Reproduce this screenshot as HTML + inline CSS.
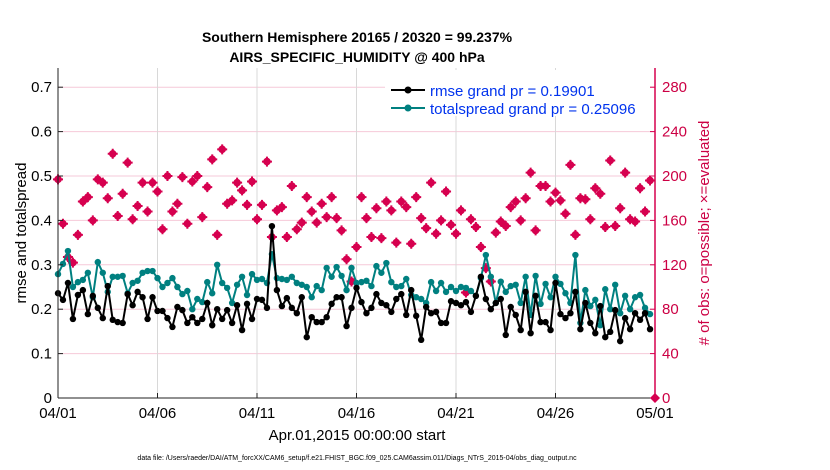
<!DOCTYPE html>
<html><head><meta charset="utf-8">
<style>
body{margin:0;background:#fff;}
svg{display:block;font-family:"Liberation Sans",Arial,sans-serif;}
</style></head>
<body>
<svg id="chart" width="830" height="470" viewBox="0 0 830 470" xmlns="http://www.w3.org/2000/svg">
<text x="357" y="42" text-anchor="middle" font-size="14" font-weight="bold">Southern Hemisphere 20165 / 20320 = 99.237%</text>
<text x="357" y="62" text-anchor="middle" font-size="14" font-weight="bold">AIRS_SPECIFIC_HUMIDITY @ 400 hPa</text>
<g id="grid"></g>
<g id="marks"></g>
<g id="axes"></g>
<text transform="translate(26,233) rotate(-90)" text-anchor="middle" font-size="15">rmse and totalspread</text>
<text transform="translate(709,233) rotate(-90)" text-anchor="middle" font-size="15" fill="#cc0044"># of obs: o=possible; ×=evaluated</text>
<text x="357" y="440" text-anchor="middle" font-size="15">Apr.01,2015 00:00:00 start</text>
<text x="357" y="460" text-anchor="middle" font-size="7">data file: /Users/raeder/DAI/ATM_forcXX/CAM6_setup/f.e21.FHIST_BGC.f09_025.CAM6assim.011/Diags_NTrS_2015-04/obs_diag_output.nc</text>
<g>
<rect x="385" y="70" width="265" height="46" fill="#fff"/>
<line x1="391" y1="90" x2="425" y2="90" stroke="#000" stroke-width="2"/>
<circle cx="408" cy="90" r="3.5" fill="#000"/>
<text x="430" y="96" font-size="15" fill="#0033ee">rmse grand pr = 0.19901</text>
<line x1="391" y1="108" x2="425" y2="108" stroke="#008080" stroke-width="2"/>
<circle cx="408" cy="108" r="3.5" fill="#008080"/>
<text x="430" y="114" font-size="15" fill="#0033ee">totalspread grand pr = 0.25096</text>
</g>
</svg>
<script>
const dateLabels=["04/01","04/06","04/11","04/16","04/21","04/26","05/01"];
const leftTicks=[0,0.1,0.2,0.3,0.4,0.5,0.6,0.7];
const rightTicks=[0,40,80,120,160,200,240,280];
const rmse=[.236,.221,.259,.178,.232,.243,.189,.230,.203,.180,.252,.176,.171,.169,.234,.209,.239,.227,.178,.227,
.196,.196,.180,.160,.205,.198,.169,.182,.169,.178,.214,.164,.200,.178,.198,.169,.209,.153,.212,.178,
.223,.221,.203,.387,.243,.207,.225,.203,.191,.227,.137,.182,.171,.171,.182,.212,.227,.227,.162,.203,
.248,.216,.191,.203,.234,.214,.209,.194,.223,.234,.187,.243,.185,.131,.205,.191,.194,.169,.169,.218,
.214,.209,.216,.194,.230,.273,.223,.200,.214,.223,.142,.205,.187,.153,.239,.146,.230,.171,.171,.153,
.259,.189,.180,.191,.239,.155,.214,.169,.146,.207,.137,.149,.198,.128,.180,.155,.191,.176,.191,.155];
const spread=[.279,.302,.331,.250,.261,.266,.282,.227,.306,.282,.239,.273,.273,.275,.236,.259,.264,.282,.286,.286,
.270,.250,.259,.270,.250,.234,.241,.200,.223,.216,.261,.236,.300,.259,.248,.214,.255,.273,.232,.279,
.266,.268,.259,.324,.270,.268,.266,.273,.259,.255,.250,.227,.252,.243,.293,.273,.295,.275,.243,.293,
.259,.261,.264,.252,.297,.282,.304,.261,.250,.252,.268,.232,.227,.223,.214,.261,.241,.259,.239,.250,
.241,.250,.248,.241,.230,.270,.322,.273,.214,.262,.239,.252,.255,.214,.273,.187,.275,.212,.257,.227,
.273,.257,.236,.214,.322,.169,.243,.207,.221,.164,.245,.200,.255,.191,.230,.200,.227,.232,.203,.189];
const nobs=[197,157,127,122,147,177,181,160,197,194,180,220,164,184,212,161,173,194,168,194,
186,152,200,168,175,199,157,195,200,163,190,215,147,224,175,178,194,187,174,195,
161,174,213,145,169,172,145,191,152,158,181,168,158,175,163,181,162,151,125,105,
136,181,162,145,171,144,177,169,140,177,172,139,181,162,153,194,148,160,186,156,
148,169,95,161,154,136,117,105,149,159,155,172,177,160,180,203,151,191,191,177,
185,178,166,210,147,180,179,161,189,184,154,214,155,171,203,161,159,189,168,196];

const NS="http://www.w3.org/2000/svg";
const X0=58,X1=655,Y0=398,YT=68;
const nDays=30;
function xPos(i){return X0+(i/4)*(X1-X0)/nDays;}
function yL(v){return Y0-v*444;}
function yR(c){return Y0-c*444/400;}
function mk(tag,attrs,parent){const e=document.createElementNS(NS,tag);for(const k in attrs)e.setAttribute(k,attrs[k]);parent.appendChild(e);return e;}
const grid=document.getElementById('grid'),marks=document.getElementById('marks'),axes=document.getElementById('axes');

rightTicks.forEach((t,k)=>{
  if(t===0)return;
  const l=mk('line',{x1:X0,x2:X1,y1:yR(t),y2:yR(t),stroke:'#f6c9d8','stroke-width':1},grid);
  
  
});
dateLabels.forEach((d,k)=>{
  const x=X0+k*5*(X1-X0)/nDays;
  if(k>0&&k<dateLabels.length-1){
    const l=mk('line',{x1:x,x2:x,y1:YT,y2:Y0,stroke:'#d8d8d8','stroke-width':1},grid);
    
    
  }
  mk('line',{x1:x,x2:x,y1:Y0,y2:Y0-5,stroke:'#222'},axes);
  const t=mk('text',{x:x,y:Y0+20,'text-anchor':'middle','font-size':15},axes);
  t.textContent=d;
  
  
});

// counts markers
nobs.forEach((c,i)=>{
  const g=mk('g',{fill:'#d6004f',stroke:'#d6004f'},marks);
  
  
  const x=xPos(i),y=yR(c);
  mk('circle',{cx:x,cy:y,r:3.3,'stroke-width':1},g);
  mk('path',{d:`M${x-5} ${y}H${x+5}M${x} ${y-5}V${y+5}`,'stroke-width':2},g);
});
function series(vals,color,name){
  const pts=vals.map((v,i)=>xPos(i).toFixed(1)+','+yL(v).toFixed(1)).join(' ');
  const pl=mk('polyline',{points:pts,fill:'none',stroke:color,'stroke-width':2},marks);
  
  
  vals.forEach((v,i)=>{
    const c=mk('circle',{cx:xPos(i),cy:yL(v),r:3.2,fill:color},marks);
    
    
  });
}
series(spread,'#008080','totalspread');
series(rmse,'#000000','rmse');
const dm=mk('path',{d:`M${X1} ${Y0-5}L${X1+5} ${Y0}L${X1} ${Y0+5}L${X1-5} ${Y0}Z`,fill:'#d6004f'},marks);



// axes frame
mk('line',{x1:X0,x2:X0,y1:YT,y2:Y0,stroke:'#222','stroke-width':1},axes);
mk('line',{x1:X0,x2:X1,y1:Y0,y2:Y0,stroke:'#222','stroke-width':1},axes);
mk('line',{x1:X1,x2:X1,y1:YT,y2:Y0,stroke:'#d6004f','stroke-width':1.5},axes);
leftTicks.forEach(v=>{
  const y=yL(v);
  mk('line',{x1:X0,x2:X0+5,y1:y,y2:y,stroke:'#222'},axes);
  const t=mk('text',{x:X0-6,y:y+5,'text-anchor':'end','font-size':15},axes);
  t.textContent=String(v);
  
  
});
rightTicks.forEach(c=>{
  const y=yR(c);
  mk('line',{x1:X1-5,x2:X1,y1:y,y2:y,stroke:'#d6004f'},axes);
  const t=mk('text',{x:X1+7,y:y+5,'font-size':15,fill:'#cc0044'},axes);
  t.textContent=String(c);
  
  
});
</script>
</body></html>
